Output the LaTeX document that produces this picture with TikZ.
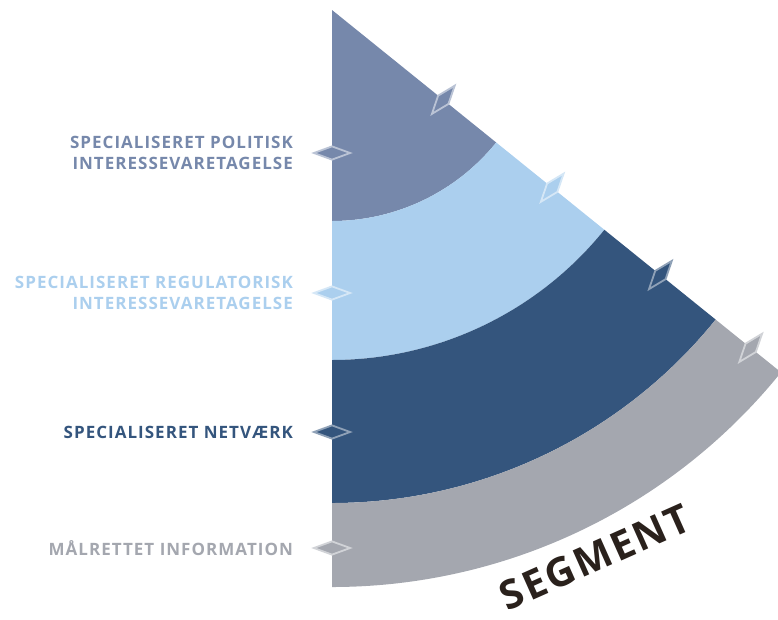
\documentclass[tikz,border=0pt]{standalone}
\usepackage{fontspec}
\setmainfont{Open Sans}
\newfontfamily\spacedfont[LetterSpace=6]{Open Sans}
\usetikzlibrary{positioning,shapes.geometric}
\definecolor{segpol}{HTML}{7688AB}
\definecolor{segreg}{HTML}{ABCFEE}
\definecolor{segnet}{HTML}{34557D}
\definecolor{seginf}{HTML}{A4A7AF}
\definecolor{segtxt}{HTML}{2A211C}
\tikzset{
  tag/.style={diamond,minimum width=37pt,minimum height=14pt,inner sep=0pt,line width=1.8pt},
  lbl/.style={inner sep=0pt,align=right,font=\spacedfont\fontsize{17}{21.5}\selectfont\bfseries},
}

\begin{document}
\begin{tikzpicture}[x=1pt,y=1pt,node distance=19.5pt]
		\def\wa{-38.9}
		\def\wb{51.1}
		\useasboundingbox (-332,-609) rectangle (446,10);
		\clip (-332,-609) rectangle (446,10);
		\coordinate (apex) at (0,0);
		% the bands
		\fill[segpol] (apex) -- (-90:211) arc[start angle=-90,end angle=\wa,radius=211] -- cycle;
		\foreach \ri/\ro/\col in {211/350/segreg,350/493/segnet,493/577/seginf}
			\fill[\col] (-90:\ri) -- (-90:\ro) arc[start angle=-90,end angle=\wa,radius=\ro]
				-- (\wa:\ri) arc[start angle=\wa,end angle=-90,radius=\ri] -- cycle;
		
		% tags on the left edge
		\node[tag,fill=segpol,draw=segpol!50!white] (tpol) at (-90:143) {};
		\node[tag,fill=segreg,draw=segreg!50!white] (treg) at (-90:283) {};
		\node[tag,fill=segnet,draw=segnet!55!white] (tnet) at (-90:422) {};
		\node[tag,fill=seginf,draw=seginf!50!white] (tinf) at (-90:538) {};
		% tags on the slanted edge
		\node[tag,rotate=\wb,fill=segpol,draw=segpol!50!white] (spol) at (\wa:143) {};
		\node[tag,rotate=\wb,fill=segreg,draw=segreg!50!white] (sreg) at (\wa:283) {};
		\node[tag,rotate=\wb,fill=segnet,draw=segnet!55!white] (snet) at (\wa:422) {};
		\node[tag,rotate=\wb,fill=seginf,draw=seginf!50!white] (sinf) at (\wa:538) {};
		
		% labels
		\node[lbl,text=segpol,left=of tpol] (lpol) {SPECIALISERET POLITISK\\INTERESSEVARETAGELSE};
		\node[lbl,text=segreg,left=of treg] (lreg) {SPECIALISERET REGULATORISK\\INTERESSEVARETAGELSE};
		\node[lbl,text=segnet,left=of tnet] (lnet) {SPECIALISERET NETVÆRK};
		\node[lbl,text=seginf,left=of tinf] (linf) {MÅLRETTET INFORMATION};
		
		\node[inner sep=0pt,font=\spacedfont\fontsize{40}{40}\selectfont\bfseries,text=segtxt,rotate=24] (seg) at (263,-547) {SEGMENT};
\end{tikzpicture}
\end{document}
